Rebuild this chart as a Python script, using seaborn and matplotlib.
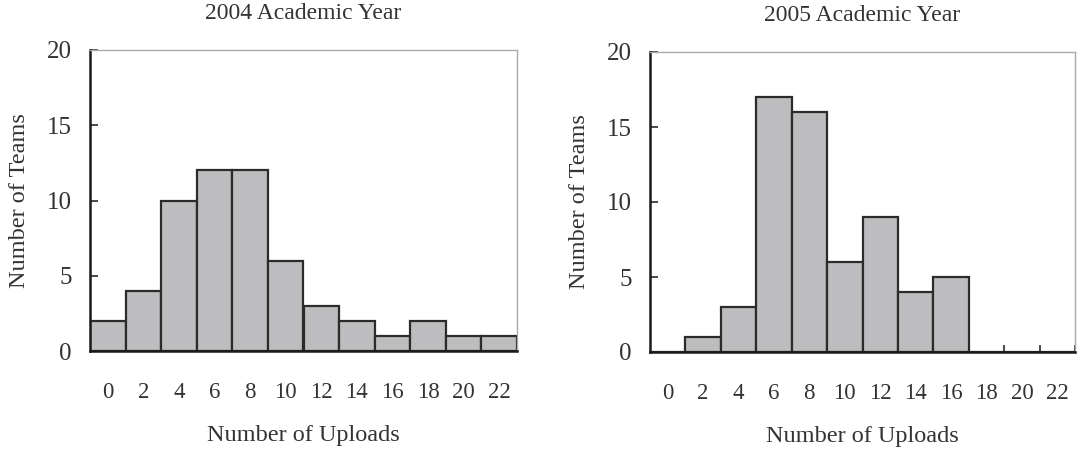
import numpy as np
import pandas as pd
import matplotlib
matplotlib.use("Agg")
import matplotlib.pyplot as plt
import seaborn as sns

# data
uploads = [0, 2, 4, 6, 8, 10, 12, 14, 16, 18, 20, 22]
teams_2004 = [2, 4, 10, 12, 12, 6, 3, 2, 1, 2, 1, 1]
teams_2005 = [0, 1, 3, 17, 16, 6, 9, 4, 5, 0, 0, 0]
titles = ["2004 Academic Year", "2005 Academic Year"]

sns.set_theme(style="white")
plt.rcParams['font.family'] = ['Liberation Serif', 'DejaVu Serif']

fig = plt.figure(figsize=(10.86, 4.51), dpi=100)
ax1 = fig.add_axes([90 / 1086, 100 / 451, 427 / 1086, 301 / 451])
ax2 = fig.add_axes([650 / 1086, 99 / 451, 425 / 1086, 300 / 451])

for ax, vals, title in zip([ax1, ax2], [teams_2004, teams_2005], titles):
    df = pd.DataFrame({'Uploads': [str(u) for u in uploads], 'Teams': vals})
    sns.barplot(x='Uploads', y='Teams', data=df, ax=ax, color='#bdbdbf',
                width=1.0, edgecolor='#2b2b2b', linewidth=1.6, saturation=1)
    ax.set_xlim(-0.5, len(uploads) - 0.5)
    ax.set_ylim(0, 20)
    ax.set_yticks([0, 5, 10, 15, 20])
    ax.set_title(title, fontsize=17, color='#333333', pad=22)
    ax.set_xlabel('Number of Uploads', fontsize=17.5, color='#333333', labelpad=16)
    ax.set_ylabel('Number of Teams', fontsize=17.5, color='#333333', labelpad=12)
    # labels at centres, tick marks at bin boundaries
    ax.set_xticks(np.arange(len(uploads)))
    ax.set_xticklabels([str(u) for u in uploads])
    ax.set_xticks(np.arange(len(uploads)) + 0.5, minor=True)
    ax.tick_params(axis='x', which='major', length=0, pad=22, labelsize=16.5,
                   labelcolor='#333333')
    ax.tick_params(axis='x', which='minor', direction='in', length=5,
                   width=1.2, color='#2b2b2b', bottom=True)
    ax.tick_params(axis='y', direction='in', length=6, width=1.2, left=True,
                   color='#2b2b2b', pad=13, labelsize=18, labelcolor='#333333')
    for s in ['left', 'bottom']:
        ax.spines[s].set_color('#1a1a1a')
        ax.spines[s].set_linewidth(1.8)
    for s in ['top', 'right']:
        ax.spines[s].set_color('#aaaaaa')
        ax.spines[s].set_linewidth(1.0)

fig.savefig('out.png', dpi=100, facecolor='white')
